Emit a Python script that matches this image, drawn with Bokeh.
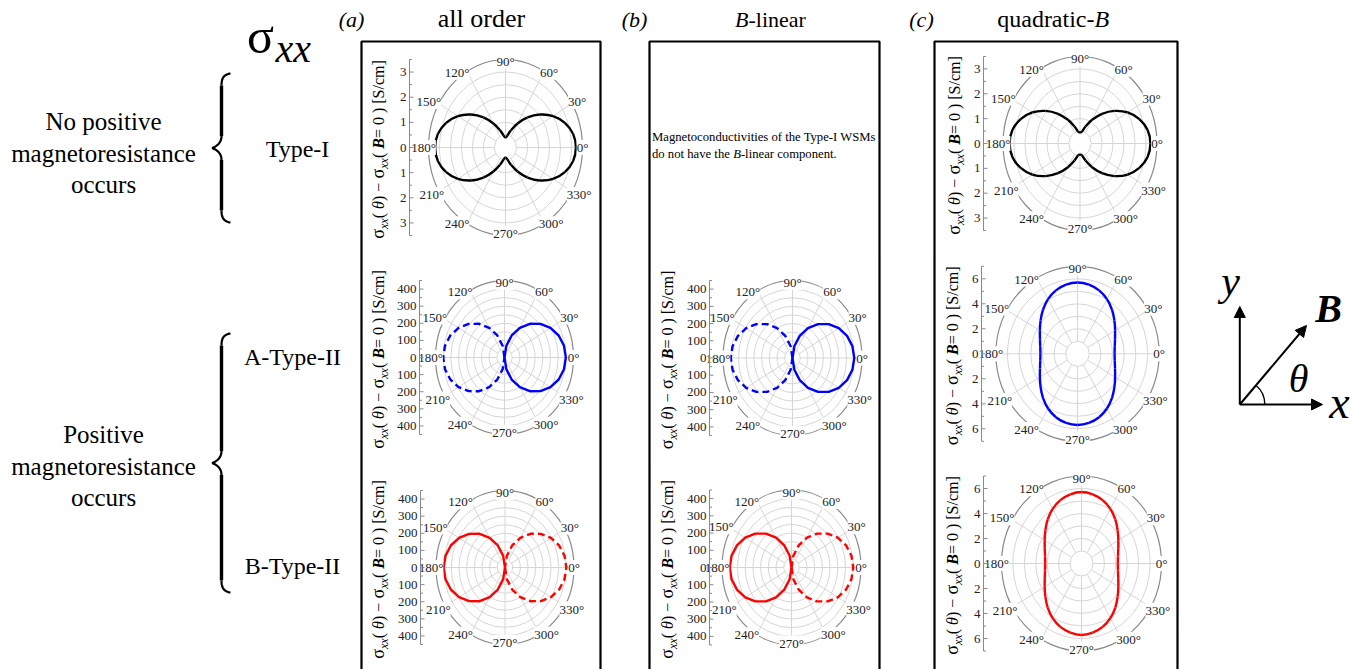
import numpy as np
from bokeh.plotting import figure
from bokeh.models import Range1d, Arrow, NormalHead
from bokeh.core.properties import value
from bokeh.embed import file_html
from bokeh.resources import INLINE

# ---------------- data ----------------
theta_deg = list(range(0, 360, 10))

# sigma_xx(theta) - sigma_xx(B=0)  [S/cm]; negative values are drawn dashed
allorder_typeI = [3.2, 3.12, 2.87, 2.5, 2.04, 1.56, 1.1, 0.73, 0.48, 0.4, 0.48, 0.73,
                  1.1, 1.56, 2.04, 2.5, 2.87, 3.12, 3.2, 3.12, 2.87, 2.5, 2.04, 1.56,
                  1.1, 0.73, 0.48, 0.4, 0.48, 0.73, 1.1, 1.56, 2.04, 2.5, 2.87, 3.12]
allorder_typeIIA = [400, 394, 376, 346, 306, 257, 200, 137, 69, 0, -69, -137,
                    -200, -257, -306, -346, -376, -394, -400, -394, -376, -346, -306, -257,
                    -200, -137, -69, 0, 69, 137, 200, 257, 306, 346, 376, 394]
allorder_typeIIB = [-400, -394, -376, -346, -306, -257, -200, -137, -69, 0, 69, 137,
                    200, 257, 306, 346, 376, 394, 400, 394, 376, 346, 306, 257,
                    200, 137, 69, 0, -69, -137, -200, -257, -306, -346, -376, -394]
linear_typeIIA = [400, 394, 376, 346, 306, 257, 200, 137, 69, 0, -69, -137,
                  -200, -257, -306, -346, -376, -394, -400, -394, -376, -346, -306, -257,
                  -200, -137, -69, 0, 69, 137, 200, 257, 306, 346, 376, 394]
linear_typeIIB = [-400, -394, -376, -346, -306, -257, -200, -137, -69, 0, 69, 137,
                  200, 257, 306, 346, 376, 394, 400, 394, 376, 346, 306, 257,
                  200, 137, 69, 0, -69, -137, -200, -257, -306, -346, -376, -394]
quad_typeI = [3.2, 3.12, 2.87, 2.5, 2.04, 1.56, 1.1, 0.73, 0.48, 0.45, 0.48, 0.73,
              1.1, 1.56, 2.04, 2.5, 2.87, 3.12, 3.2, 3.12, 2.87, 2.5, 2.04, 1.56,
              1.1, 0.73, 0.48, 0.45, 0.48, 0.73, 1.1, 1.56, 2.04, 2.5, 2.87, 3.12]
quad_typeIIA = [3.18, 3.24, 3.42, 3.72, 4.13, 4.6, 5.05, 5.4, 5.62, 5.7, 5.62, 5.4,
                5.05, 4.6, 4.13, 3.72, 3.42, 3.24, 3.18, 3.24, 3.42, 3.72, 4.13, 4.6,
                5.05, 5.4, 5.62, 5.7, 5.62, 5.4, 5.05, 4.6, 4.13, 3.72, 3.42, 3.24]
quad_typeIIB = [3.18, 3.24, 3.42, 3.72, 4.13, 4.6, 5.05, 5.4, 5.62, 5.72, 5.62, 5.4,
                5.05, 4.6, 4.13, 3.72, 3.42, 3.24, 3.18, 3.24, 3.42, 3.72, 4.13, 4.6,
                5.05, 5.4, 5.62, 5.72, 5.62, 5.4, 5.05, 4.6, 4.13, 3.72, 3.42, 3.24]

angle_label_deg = [0, 30, 60, 90, 120, 150, 180, 210, 240, 270, 300, 330]
ticks_small = [-3, -2, -1, 0, 1, 2, 3]
ticks_linear = [-400, -300, -200, -100, 0, 100, 200, 300, 400]
ticks_quad = [-6, -4, -2, 0, 2, 4, 6]

column_titles = ["all order", "B-linear", "quadratic-B"]
row_names = ["Type-I", "A-Type-II", "B-Type-II"]

# ---------------- canvas ----------------
W, H = 1361, 669
FONT = "Liberation Serif"


def Y(y):
    return H - y


p = figure(width=W, height=H, x_range=Range1d(0, W), y_range=Range1d(0, H),
           output_backend="svg", toolbar_location=None, min_border=0,
           x_axis_location=None, y_axis_location=None, outline_line_color=None)
p.grid.visible = False
p.background_fill_color = "white"


def txt(x, y, s, size, align="center", baseline="alphabetic", style="normal",
        angle=0.0, color="black", bg=None):
    # x, y in screen pixels; "alphabetic" means (x, y) is on the baseline
    kw = {}
    if bg is not None:
        kw["background_fill_color"] = bg
    if baseline == "alphabetic":
        baseline = "middle"
        sh = 0.3 * size
        if angle == 0:
            y -= sh
        else:
            x -= sh
    p.text(x=[x], y=[Y(y)], text=[s], text_font=value(FONT),
           text_font_size=f"{size}px", text_font_style=style, text_align=align,
           text_baseline=baseline, angle=angle, text_color=color, **kw)


# panel boxes
for (l, r) in [(361, 600), (649, 879), (934, 1177)]:
    p.line(x=[l, l, r, r], y=[Y(720), Y(41), Y(41), Y(720)], line_color="black",
           line_width=2.2)

# column titles
txt(481, 26, column_titles[0], 26)
txt(748, 26, "B", 22, align="right", style="italic")
txt(748, 26, "-linear", 22, align="left")
txt(1094, 26, "quadratic-", 24, align="right")
txt(1094, 26, "B", 24, align="left", style="italic")
txt(351, 26, "(a)", 22, style="italic")
txt(634, 26, "(b)", 22, style="italic")
txt(921, 26, "(c)", 22, style="italic")

# sigma_xx header
txt(260, 50, "σ", 50)
txt(275, 60, "xx", 40, align="left", style="italic")

# left texts
for yb, s in [(128, "No positive"), (160, "magnetoresistance"), (191, "occurs"),
              (441, "Positive"), (473, "magnetoresistance"), (504, "occurs")]:
    txt(103, yb, s, 25)
txt(297, 156, row_names[0], 24)
txt(292, 364, row_names[1], 24)
txt(292, 573, row_names[2], 24)


def cubic(p0, p1, p2, p3, n=20):
    t = np.linspace(0, 1, n)[:, None]
    P = [np.array(q, dtype=float) for q in (p0, p1, p2, p3)]
    return ((1 - t) ** 3) * P[0] + 3 * ((1 - t) ** 2) * t * P[1] + \
        3 * (1 - t) * t * t * P[2] + (t ** 3) * P[3]


def brace(top, bot, xl=211.5, xm=221, xr=230):
    mid = (top + bot) / 2
    c = 12
    tipT = cubic((xr, top), (xm + 2, top + 1), (xm, top + 5), (xm, top + c))
    ptT = cubic((xm, mid - c), (xm, mid - 4), (xl + 3, mid - 1), (xl, mid))
    ptB = cubic((xl, mid), (xl + 3, mid + 1), (xm, mid + 4), (xm, mid + c))
    tipB = cubic((xm, bot - c), (xm, bot - 5), (xm + 2, bot - 1), (xr, bot))
    for seg in (tipT, ptT, ptB, tipB):
        p.line(x=list(seg[:, 0]), y=[Y(v) for v in seg[:, 1]], line_color="black",
               line_width=2.2)
    p.line(x=[xm, xm], y=[Y(top + c), Y(mid - c)], line_color="black", line_width=3.4)
    p.line(x=[xm, xm], y=[Y(mid + c), Y(bot - c)], line_color="black", line_width=3.4)


brace(73, 222)
brace(333, 592)

# B-linear note (Times metrics: "do not have the " = 6.388 em)
NOTE = 12.7
txt(651.5, 140, "Magnetoconductivities of the Type-I WSMs", NOTE, align="left")
txt(651.5, 157, "do not have the ", NOTE, align="left")
xb = 651.5 + 6.388 * NOTE
txt(xb, 157, "B", NOTE, align="left", style="italic")
txt(xb + 0.611 * NOTE, 157, "-linear component.", NOTE, align="left")

# ---------------- polar panels ----------------
lbl_off = {0: (0, 0), 30: (5, -2), 60: (5, 1), 90: (0, 2), 120: (-10, 1), 150: (-10, -2),
           180: (-5, 0), 210: (-7, 3), 240: (-10, 0), 270: (0, -2), 300: (7, 0), 330: (7, 3)}

# rotated y label, pieces laid end to end (em widths from Times metrics)
ylabel_segs = [("σ", 18, "normal", 0, 0.55), ("xx", 12, "italic", 4, 0.888),
               (" (", 16, "normal", 0, 0.583), ("θ", 16, "italic", 0, 0.5),
               (") − ", 16, "normal", 0, 1.397), ("σ", 18, "normal", 0, 0.55),
               ("xx", 12, "italic", 4, 0.888), (" (", 16, "normal", 0, 0.583),
               ("B", 16, "bold italic", 0, 0.667), (" = 0 ) [S/cm]", 16, "normal", 0, 5.12)]
ylabel_len = sum(s[1] * s[4] for s in ylabel_segs)


def split_runs(val):
    n = len(val)
    zeros = [i for i in range(n) if val[i] == 0]
    if not zeros:
        return [(list(range(n)), 1, True)]
    k = zeros[0]
    order = [(k + j) % n for j in range(n + 1)]
    runs, cur = [], [order[0]]
    for i in order[1:]:
        cur.append(i)
        if val[i] == 0:
            s = 1 if any(val[j] > 0 for j in cur) else -1
            runs.append((cur, s, False))
            cur = [i]
    return runs


def polar(cx, cy, rx, ry, rmax, minor, ticks, axis_x, lab_base, series, color):
    sx, sy = rx / rmax, ry / rmax
    rings = np.arange(minor, rmax - 1e-9, minor)
    p.ellipse(x=[cx] * len(rings), y=[Y(cy)] * len(rings), width=list(2 * rings * sx),
              height=list(2 * rings * sy), fill_color=None, line_color="#d6d6d6",
              line_width=1)
    xs, ys = [], []
    for a in angle_label_deg:
        t = np.deg2rad(a)
        xs.append([cx + minor * sx * np.cos(t), cx + rmax * sx * np.cos(t)])
        ys.append([Y(cy - minor * sy * np.sin(t)), Y(cy - rmax * sy * np.sin(t))])
    p.multi_line(xs=xs, ys=ys, line_color="#d6d6d6", line_width=1)
    p.ellipse(x=[cx], y=[Y(cy)], width=[2 * rx], height=[2 * ry], fill_color=None,
              line_color="#8a8a8a", line_width=1.2)
    # curves
    th = np.deg2rad(np.array(theta_deg, dtype=float))
    v = np.array(series, dtype=float)
    for idx, s, closed in split_runs(series):
        r = np.abs(v[idx])
        px = cx + r * sx * np.cos(th[idx])
        py = np.array([Y(q) for q in (cy - r * sy * np.sin(th[idx]))])
        if closed:
            # smooth closed curve through the points (Catmull-Rom as Bezier segments)
            P = np.column_stack([px, py])
            n = len(P)
            P0 = P[np.arange(n) - 1]
            P1 = P
            P2 = P[(np.arange(n) + 1) % n]
            P3 = P[(np.arange(n) + 2) % n]
            C1 = P1 + (P2 - P0) / 6.0
            C2 = P2 - (P3 - P1) / 6.0
            p.bezier(x0=list(P1[:, 0]), y0=list(P1[:, 1]), x1=list(P2[:, 0]),
                     y1=list(P2[:, 1]), cx0=list(C1[:, 0]), cy0=list(C1[:, 1]),
                     cx1=list(C2[:, 0]), cy1=list(C2[:, 1]), line_color=color,
                     line_width=2.4)
        else:
            p.line(x=list(px), y=list(py), line_color=color, line_width=2.4,
                   line_dash="solid" if s > 0 else "7 4")
    # angle labels
    for a in angle_label_deg:
        t = np.deg2rad(a)
        dx, dy = lbl_off[a]
        txt(cx + rx * np.cos(t) + dx, cy - ry * np.sin(t) + dy, f"{a}°", 13,
            baseline="middle", color="#222222", bg="white")
    # radial axis
    p.line(x=[axis_x, axis_x], y=[Y(cy - ry), Y(cy + ry)], line_color="#8a8a8a",
           line_width=1)
    mj = ticks[1] - ticks[0]
    mt = np.arange(-rmax, rmax + 1e-9, minor)
    txs, tys = [], []
    for m in mt:
        ln = 4 if abs(m / mj - round(m / mj)) < 1e-6 else 2.5
        txs.append([axis_x, axis_x + ln])
        tys.append([Y(cy - m * sy)] * 2)
    p.multi_line(xs=txs, ys=tys, line_color="#8a8a8a", line_width=1)
    for tv in ticks:
        txt(axis_x - 3, cy - tv * sy, f"{abs(tv):g}", 13, align="right",
            baseline="middle", color="#222222")
    # rotated y label
    ypos = cy + ylabel_len / 2
    for s, size, style, dx, em in ylabel_segs:
        txt(lab_base + dx, ypos, s, size, align="left", style=style, angle=np.pi / 2)
        ypos -= size * em


polar(505, 147, 77, 88, 3.5, 0.5, ticks_small, 409, 383, allorder_typeI, "black")
polar(504, 357, 69, 77, 450, 50, ticks_linear, 419, 383, allorder_typeIIA, "#0000ff")
polar(504.5, 567, 69, 77, 450, 50, ticks_linear, 420, 383, allorder_typeIIB, "#ff0000")
polar(792, 357.5, 69.5, 77.5, 450, 50, ticks_linear, 709, 672, linear_typeIIA, "#0000ff")
polar(791, 567, 69.5, 77.5, 450, 50, ticks_linear, 709, 672, linear_typeIIB, "#ff0000")
polar(1079.5, 143, 77, 87, 3.5, 0.5, ticks_small, 983, 959, quad_typeI, "black")
polar(1077, 353.3, 81.7, 87.5, 7, 1, ticks_quad, 981, 957, quad_typeIIA, "#0000ff")
polar(1081, 563, 80, 87.5, 7, 1, ticks_quad, 983, 957, quad_typeIIB, "#ff0000")

# ---------------- coordinate sketch ----------------
ox, oy = 1239.3, 404
for (ex, ey) in [(1239.3, 306), (1322, 404), (1306, 325)]:
    p.add_layout(Arrow(end=NormalHead(size=11, fill_color="black", line_color="black"),
                       x_start=ox, y_start=Y(oy), x_end=ex, y_end=Y(ey),
                       line_color="black", line_width=2))
p.arc(x=[ox], y=[Y(oy)], radius=25, start_angle=0, end_angle=np.deg2rad(50),
      line_color="black", line_width=1.3)
txt(1230, 280, "y", 42, baseline="middle", style="italic")
txt(1328, 308, "B", 40, baseline="middle", style="bold italic")
txt(1298, 378, "θ", 40, baseline="middle", style="italic")
txt(1339, 402, "x", 46, baseline="middle", style="italic")

open("out.html", "w").write(file_html(p, INLINE))
